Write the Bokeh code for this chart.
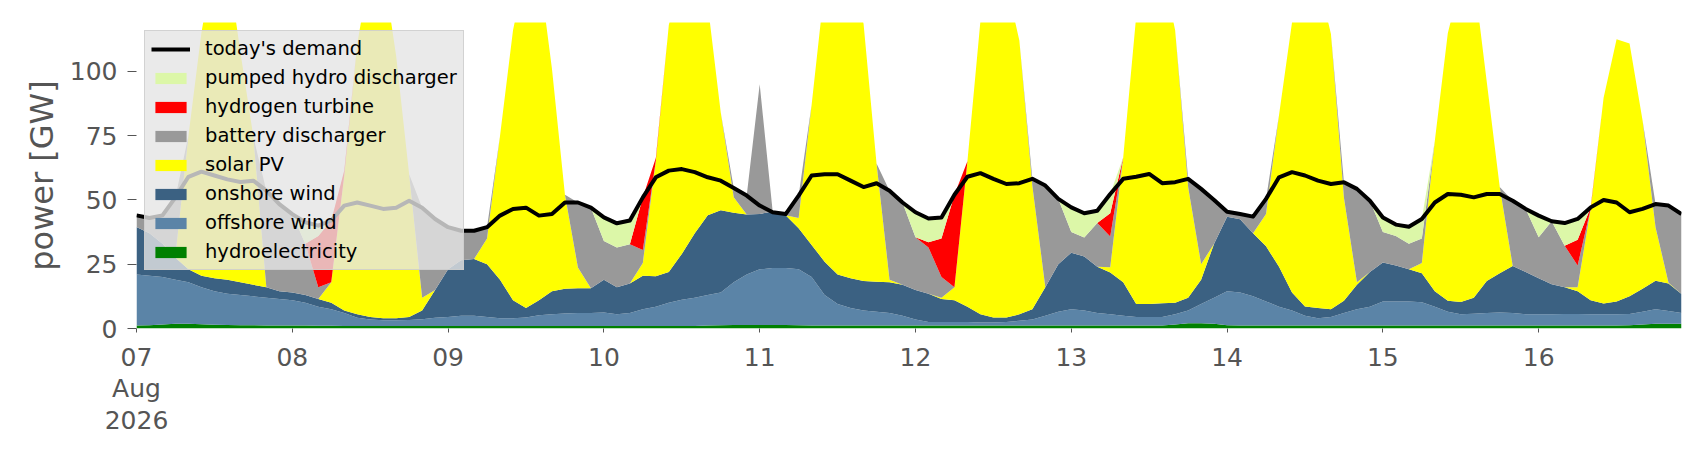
import pandas as pd
from bokeh.embed import file_html
from bokeh.models import ColumnDataSource, FixedTicker, Legend, LegendItem, Range1d
from bokeh.plotting import figure
from bokeh.resources import INLINE

# two-hourly samples, 07 Aug 2026 00:00 .. 16 Aug 22:00
times = pd.date_range("2026-08-07 00:00", periods=120, freq="2h")
day_ticks = pd.date_range("2026-08-07", periods=10, freq="D")
day_labels = ["07\nAug\n2026", "08", "09", "10", "11", "12", "13", "14", "15", "16"]
y_ticks = [0, 25, 50, 75, 100]

# GW
hydroelectricity = [
    1.2, 1.3, 1.6, 1.8, 1.8, 1.7, 1.5, 1.4, 1.3, 1.3,
    1.2, 1.2, 1.2, 1.2, 1.1, 1.1, 1.0, 1.0, 1.0, 1.0,
    1.0, 1.0, 1.0, 1.0, 1.0, 1.0, 1.0, 1.0, 1.0, 1.0,
    1.0, 1.0, 1.0, 1.0, 1.0, 1.0, 1.0, 1.0, 1.0, 1.0,
    1.0, 1.0, 1.0, 1.0, 1.2, 1.3, 1.4, 1.4, 1.4, 1.4,
    1.4, 1.3, 1.2, 1.2, 1.2, 1.2, 1.2, 1.2, 1.2, 1.2,
    1.2, 1.2, 1.2, 1.2, 1.2, 1.2, 1.2, 1.2, 1.2, 1.2,
    1.2, 1.2, 1.2, 1.2, 1.2, 1.2, 1.2, 1.2, 1.2, 1.2,
    1.6, 2.0, 2.0, 1.8, 1.3, 1.2, 1.2, 1.2, 1.2, 1.2,
    1.2, 1.2, 1.2, 1.2, 1.2, 1.2, 1.2, 1.2, 1.2, 1.2,
    1.2, 1.2, 1.2, 1.2, 1.2, 1.2, 1.2, 1.2, 1.2, 1.2,
    1.2, 1.2, 1.2, 1.2, 1.2, 1.3, 1.6, 1.8, 1.8, 1.8,
]
offshore_wind = [
    19.8, 19.2, 18.4, 17.2, 16.2, 14.3, 13.0, 12.1, 11.7, 11.2,
    10.8, 10.3, 9.8, 8.8, 7.4, 6.4, 5.0, 3.2, 2.5, 2.2,
    2.2, 2.3, 2.6, 3.2, 3.5, 4.0, 4.0, 3.5, 3.0, 3.0,
    3.3, 4.2, 4.5, 4.8, 5.0, 5.0, 5.2, 4.5, 5.0, 6.5,
    7.5, 9.0, 10.2, 11.0, 11.8, 12.7, 16.6, 19.6, 21.6, 22.1,
    22.1, 21.7, 18.8, 11.8, 8.3, 6.8, 5.8, 5.3, 4.8, 3.8,
    2.3, 1.3, 1.3, 1.3, 1.3, 1.1, 1.1, 1.3, 1.8, 2.3,
    3.8, 5.3, 6.3, 5.8, 4.8, 4.3, 3.8, 3.3, 3.3, 3.3,
    3.9, 5.0, 7.5, 10.2, 13.2, 12.8, 11.3, 9.3, 7.3, 5.8,
    3.8, 2.8, 3.3, 4.8, 6.3, 7.3, 9.3, 9.3, 9.3, 9.0,
    7.3, 5.3, 4.3, 4.5, 4.8, 5.0, 4.8, 4.3, 4.3, 4.3,
    4.4, 4.4, 4.3, 4.3, 4.3, 4.3, 4.9, 5.7, 5.0, 4.2,
]
onshore_wind = [
    18.5, 16.5, 13.0, 8.5, 5.0, 4.5, 5.0, 5.5, 5.0, 4.5,
    4.0, 3.0, 3.0, 3.0, 3.0, 2.5, 1.0, 1.3, 1.0, 0.8,
    0.8, 1.2, 3.4, 10.8, 18.5, 21.5, 22.0, 20.5, 15.0, 7.0,
    3.7, 5.8, 9.0, 9.7, 9.7, 9.7, 12.8, 10.5, 11.5, 13.0,
    11.8, 12.0, 17.8, 25.0, 31.0, 32.0, 27.0, 23.3, 21.5, 22.0,
    20.5, 16.0, 12.5, 13.0, 11.5, 11.5, 11.5, 11.7, 12.0, 12.0,
    11.5, 11.0, 9.0, 8.5, 6.0, 3.2, 2.0, 1.8, 2.5, 4.0,
    11.0, 18.5, 22.0, 21.0, 18.0, 16.3, 13.0, 5.0, 5.0, 5.3,
    4.5, 5.0, 9.5, 21.0, 29.0, 28.5, 24.5, 21.5, 15.5, 7.0,
    3.6, 4.0, 3.0, 4.8, 9.5, 13.5, 15.2, 14.0, 12.5, 11.3,
    6.0, 4.3, 4.8, 6.3, 12.5, 15.3, 18.3, 16.5, 14.0, 11.7,
    10.4, 8.9, 5.5, 4.2, 5.0, 6.9, 9.0, 11.1, 10.7, 7.4,
]
solar_pv = [
    0, 0, 0, 1, 52, 94.5, 125, 124, 89.5, 57.6,
    0, 0, 0, 0, 0, 8, 52.4, 105, 136, 136,
    102, 55.5, 5, 0, 0, 0, 0, 10, 56, 105,
    132, 129, 86.5, 36.5, 8, 0, 0, 0, 0, 5,
    45, 96, 110, 105, 82, 38, 6, 0, 0, 0,
    0, 4, 54.5, 107, 120, 120, 100, 46, 1, 0,
    0, 0, 0.5, 5, 56.5, 114, 130, 130, 106.5, 48,
    0, 0, 0, 0, 0, 2, 48.6, 112, 130, 130,
    106, 43, 6, 0, 0, 0, 0, 12.5, 59, 105,
    130, 128, 107, 40, 1, 0, 0, 0, 0, 4,
    58.5, 104, 125, 125, 77.5, 33.5, 0, 0, 0, 0,
    0, 1.5, 35.5, 80, 102, 98.3, 65.5, 20.8, 0.3, 0,
]
battery_discharger = [
    4.5, 6, 11, 22.5, 0, 0, 0, 0, 0, 0,
    37.6, 33.9, 30.5, 20, 4.5, 0, 0, 0, 0, 0,
    0, 0, 35, 27.6, 16.4, 11.5, 11, 4.4, 0, 0,
    0, 0, 0, 0, 25.3, 31.3, 15, 15.5, 15.3, 5,
    0, 0, 0, 0, 0, 0, 3.6, 7.4, 50.5, 0,
    0.5, 8.7, 0, 0, 0, 0, 0, 0, 34.6, 32,
    20.5, 18, 8, 0, 0, 0, 0, 0, 0, 2.7,
    39.6, 25.4, 8, 7.4, 17, 12, 0, 0, 0, 0,
    0, 3.2, 29.3, 17, 1.9, 2, 6.5, 5.9, 0, 0,
    0, 0, 0, 6.1, 36.3, 27.7, 11.8, 11.5, 10, 9.5,
    0, 0, 0, 0, 0, 0, 25.4, 24.5, 16, 24.5,
    16.2, 8.5, 0, 0, 0, 0, 0, 9, 30, 31.1,
]
hydrogen_turbine = [
    0, 0, 0, 0, 0, 0, 0, 0, 0, 0,
    0, 0, 0, 0, 20, 24, 2, 0, 0, 0,
    0, 0, 0, 0, 0, 0, 0, 0, 0, 0,
    0, 0, 0, 0, 0, 0, 0, 0, 0, 20.5,
    1, 0, 0, 0, 0, 0, 0, 0, 0, 0,
    0, 0, 0, 0, 0, 0, 0, 0, 0, 0,
    0, 2, 15, 36, 0, 0, 0, 0, 0, 0,
    0, 0, 0, 0, 0, 9, 0, 0, 0, 0,
    0, 0, 0, 0, 0, 0, 0, 0, 0, 0,
    0, 0, 0, 0, 0, 0, 0, 0, 0, 0,
    0, 0, 0, 0, 0, 0, 0, 0, 0, 0,
    0, 10, 0.6, 0, 0, 0, 0, 0, 0, 0,
]
pumped_hydro_discharger = [
    0, 0, 0, 0, 0, 0, 0, 0, 0, 0,
    0, 0, 0, 8.3, 4, 0, 0, 0, 0, 0,
    0, 0, 0, 0, 0, 0, 0, 0, 0, 0,
    0, 0, 0, 0, 0, 0, 9.2, 9.4, 9.2, 0,
    0, 0, 0, 0, 0, 0, 0, 0, 0, 0,
    0, 0, 0, 0, 0, 0, 0, 0, 0, 0,
    9.7, 9.3, 8.2, 0, 0, 0, 0, 0, 0, 0,
    0, 0, 9.6, 9.4, 4.8, 7.5, 0, 0, 0, 0,
    0, 0, 0, 0, 0, 0, 0, 0, 0, 0,
    0, 0, 0, 0, 0, 0, 5.7, 4.4, 6.6, 7.6,
    0, 0, 0, 0, 0, 0, 0, 0, 8.4, 0,
    8.8, 8.1, 0, 0, 0, 0, 0, 0, 0, 0,
]
todays_demand = [
    44, 43, 44, 51, 59, 61, 59.5, 58, 57, 57.5,
    53.6, 48.4, 44.5, 41.3, 40, 42, 47.8, 49, 47.8, 46.5,
    47, 49.7, 47, 42.6, 39.4, 38, 38, 39.4, 43.9, 46.5,
    47, 43.9, 44.5, 49, 49, 47, 43.2, 40.9, 42, 51,
    58.8, 61.4, 62, 60.8, 58.8, 57.5, 54.6, 51.7, 47.8, 45.2,
    44.5, 51.7, 59.5, 60, 60, 57.5, 55, 56.5, 53.6, 49,
    45.2, 42.8, 43.2, 52, 59, 60.4, 58.2, 56.2, 56.5, 58.2,
    55.6, 50.4, 47.1, 44.8, 45.8, 52.3, 58.2, 59, 60.1, 56.5,
    56.9, 58.2, 54.3, 50, 45.4, 44.5, 43.5, 50.4, 58.8, 60.8,
    59.5, 57.5, 56.2, 56.9, 54.3, 49.7, 43.2, 40.4, 39.6, 42.6,
    49, 52.3, 52, 51, 52.3, 52.3, 49.7, 46.5, 43.9, 41.7,
    41, 42.6, 47.1, 50, 49, 45.2, 46.5, 48.4, 47.8, 44.5,
]

# stack order, bottom to top
layers = ["hydroelectricity", "offshore wind", "onshore wind", "solar PV",
          "battery discharger", "hydrogen turbine", "pumped hydro discharger"]
keys = ["hydro", "offshore", "onshore", "solar", "battery", "hydrogen", "pumped"]
colors = ["#008000", "#5b84a7", "#3b6182", "#ffff00", "#999999", "#ff0000", "#dcf7a8"]

source = ColumnDataSource(dict(
    time=times,
    hydro=hydroelectricity,
    offshore=offshore_wind,
    onshore=onshore_wind,
    solar=solar_pv,
    battery=battery_discharger,
    hydrogen=hydrogen_turbine,
    pumped=pumped_hydro_discharger,
    demand=todays_demand,
))

p = figure(
    x_axis_type="datetime",
    frame_width=1545, frame_height=306,
    min_border_left=136, min_border_top=22, min_border_right=12, min_border_bottom=112,
    x_range=Range1d(times[0], times[-1]),
    y_range=Range1d(0, 119),
    output_backend="svg", toolbar_location=None,
)
p.outline_line_color = None
p.background_fill_color = "white"
p.grid.visible = False

areas = p.varea_stack(stackers=keys, x="time", color=colors, source=source)
demand_line = p.line("time", "demand", source=source, line_color="black",
                     line_width=4, line_join="round")

# axes
tick_ms = [t.timestamp() * 1000 for t in day_ticks]
p.xaxis.ticker = FixedTicker(ticks=tick_ms)
p.xaxis.major_label_overrides = dict(zip(tick_ms, day_labels))
p.yaxis.ticker = FixedTicker(ticks=y_ticks)
p.axis.axis_line_color = None
p.axis.major_tick_line_color = "#555555"
p.axis.minor_tick_line_color = None
p.axis.major_tick_in = 0
p.axis.major_label_text_font = "DejaVu Sans"
p.axis.major_label_text_font_size = "25px"
p.axis.major_label_text_color = "#555555"
p.xaxis.major_label_text_line_height = 1.1
p.xaxis.major_tick_out = 4
p.xaxis.major_label_standoff = 10
p.yaxis.major_tick_out = 9
p.yaxis.major_label_standoff = 10
p.yaxis.axis_label = "power [GW]"
p.yaxis.axis_label_text_font = "DejaVu Sans"
p.yaxis.axis_label_text_font_size = "32px"
p.yaxis.axis_label_text_font_style = "normal"
p.yaxis.axis_label_text_color = "#555555"
p.yaxis.axis_label_standoff = 6

items = [LegendItem(label="today's demand", renderers=[demand_line])]
for name, r in reversed(list(zip(layers, areas))):
    items.append(LegendItem(label=name, renderers=[r]))

legend = Legend(
    items=items, location="top_left", margin=8, padding=6, spacing=6,
    glyph_width=39, glyph_height=14, label_standoff=15, label_height=20,
    label_text_font="DejaVu Sans", label_text_font_size="19.5px", label_text_color="black",
    background_fill_color="#e5e5e5", background_fill_alpha=0.8,
    border_line_color="#cccccc", border_line_alpha=0.8, border_line_width=1,
)
p.add_layout(legend)

open("out.html", "w").write(file_html(p, INLINE))
